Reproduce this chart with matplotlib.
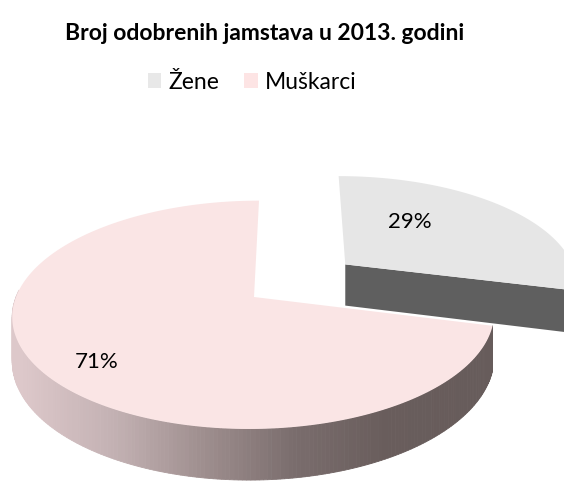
import numpy as np
import matplotlib.pyplot as plt
from matplotlib.patches import Polygon, Patch
from matplotlib.colors import LinearSegmentedColormap

plt.rcParams['font.family'] = ['Lato', 'DejaVu Sans']

# data
labels = ['Žene', 'Muškarci']
shares = [29, 71]
top_colors = ['#e6e6e6', '#fae5e5']
legend_colors = ['#e8e8e8', '#fde4e4']
title = 'Broj odobrenih jamstava u 2013. godini'

# 3d look (pixel space of the 564x482 picture)
cx, cy = 254, 297          # pie centre on screen
s = 238                    # radius in px
k = 0.156                  # perspective
sin_e, cos_e = 0.468, 0.884
shear = 5
h = 0.205                  # thickness
explode = [0.5, 0.0]
label_pos = [(0.55, 17), (0.8, 4)]   # (radius, angle shift) for % labels

side_cmap = LinearSegmentedColormap.from_list(
    'side', ['#ddc8ca', '#c4b2b4', '#9f8f8f', '#7a6d6d', '#695d5c', '#675c5b'])
zene_side = '#5f5f5f'


def proj(x, y, z):
    w = 1 + k * y
    sx = cx + s * x / w + shear * y
    sy = cy - s * (y * sin_e + z * cos_e) / w
    return sx, sy


fig = plt.figure(figsize=(5.64, 4.82), dpi=100)
ax = fig.add_axes([0, 0, 1, 1])
ax.set_xlim(0, 564)
ax.set_ylim(482, 0)
ax.axis('off')

starts = 90 - np.cumsum([0] + shares[:-1]) * 3.6
ends = starts - np.array(shares) * 3.6

for i in range(len(shares)):
    a0, a1 = starts[i], ends[i]
    mid = np.radians((a0 + a1) / 2)
    ox, oy = explode[i] * np.cos(mid), explode[i] * np.sin(mid)
    th = np.radians(np.linspace(a0, a1, 300))
    rx, ry = ox + np.cos(th), oy + np.sin(th)

    # radial face at the end edge (visible for the exploded slice)
    if i == 0:
        ex, ey = ox + np.cos(np.radians(a1)), oy + np.sin(np.radians(a1))
        pts = [proj(ox, oy, 0), proj(ex, ey, 0), proj(ex, ey, -h), proj(ox, oy, -h)]
        ax.add_patch(Polygon(pts, closed=True, fc=zene_side, ec='none'))

    # outer side, front part only
    for j in range(len(th) - 1):
        if np.sin(th[j]) > 0.05 and np.sin(th[j + 1]) > 0.05:
            continue
        q = [proj(rx[j], ry[j], 0), proj(rx[j + 1], ry[j + 1], 0),
             proj(rx[j + 1], ry[j + 1], -h), proj(rx[j], ry[j], -h)]
        if i == 0:
            col = zene_side
        else:
            col = side_cmap(np.clip((q[0][0] - 20) / 460, 0, 1))
        ax.add_patch(Polygon(q, closed=True, fc=col, ec=col, lw=0.6))

    # top face
    top = [proj(ox, oy, 0)] + [proj(a, b, 0) for a, b in zip(rx, ry)]
    ax.add_patch(Polygon(top, closed=True, fc=top_colors[i], ec='none'))

    # percentage label
    r, shift = label_pos[i]
    la = mid + np.radians(shift)
    lx, ly = proj(ox + r * np.cos(la), oy + r * np.sin(la), 0)
    ax.text(lx, ly, f'{shares[i]}%', ha='center', va='center', fontsize=16,
            color='black')

fig.text(265 / 564, 1 - 33 / 482, title, ha='center', va='center',
         fontsize=16.5, fontweight='bold')

handles = [Patch(fc=c, ec='none') for c in legend_colors]
fig.legend(handles, labels, loc='center', bbox_to_anchor=(252 / 564, 1 - 82 / 482),
           ncol=2, frameon=False, fontsize=16.5, handlelength=0.6,
           handleheight=0.6, handletextpad=0.3, columnspacing=1.1)

fig.savefig('out.png', dpi=100)
